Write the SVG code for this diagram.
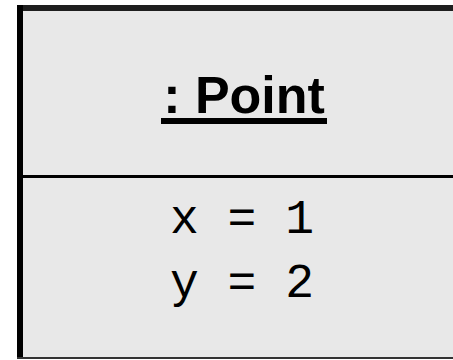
<svg xmlns="http://www.w3.org/2000/svg" width="453" height="360" viewBox="0 0 453 360">
<style>
.title{font-family:"Liberation Sans",Arial,sans-serif;font-weight:bold;font-size:52px;fill:#000}
.attr{font-family:"Liberation Mono","Courier New",monospace;font-size:48px;fill:#000}
</style>
<rect width="453" height="360" fill="#fff"/>
<g id="point-object">
<rect x="17" y="5" width="440" height="354" fill="#e8e8e8"/>
<rect x="17" y="5" width="440" height="6" fill="#1e1e1e"/>
<rect x="17" y="5" width="6" height="354" fill="#000"/>
<rect x="17" y="357" width="440" height="2" fill="#333"/>
<rect x="23" y="175" width="434" height="3" fill="#000"/>
<text class="title" x="244" y="113" text-anchor="middle">: Point</text>
<rect x="161" y="118" width="166" height="6" fill="#000"/>
<text class="attr" x="242" y="233" text-anchor="middle">x = 1</text>
<text class="attr" x="242" y="297" text-anchor="middle">y = 2</text>
</g>
</svg>
